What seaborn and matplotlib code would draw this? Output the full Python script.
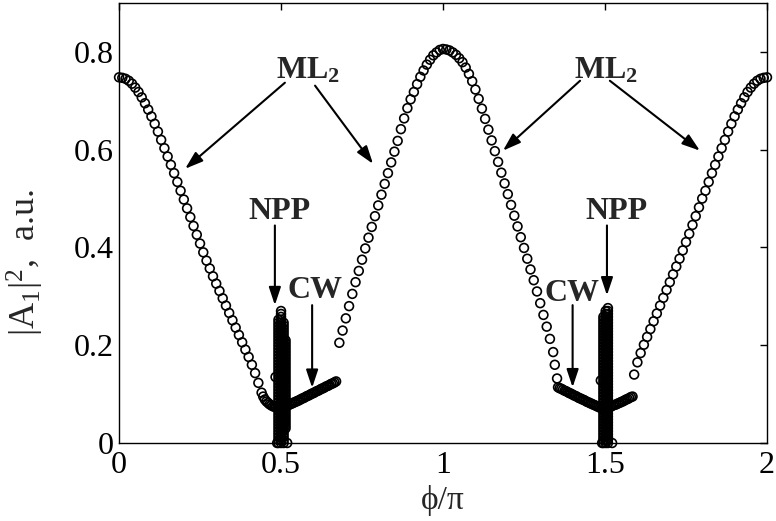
import numpy as np
import pandas as pd
import matplotlib
matplotlib.use('Agg')
import matplotlib.pyplot as plt
import seaborn as sns

# ML2 branch, left part (phi/pi, |A1|^2)
ml_left_phi = [0.00, 0.01, 0.02, 0.03, 0.04, 0.05, 0.06, 0.07, 0.08, 0.09,
               0.10, 0.11, 0.12, 0.13, 0.14, 0.15, 0.16, 0.17, 0.18, 0.19,
               0.20, 0.21, 0.22, 0.23, 0.24, 0.25, 0.26, 0.27, 0.28, 0.29,
               0.30, 0.31, 0.32, 0.33, 0.34, 0.35, 0.36, 0.37, 0.38, 0.39,
               0.40, 0.41, 0.42, 0.43, 0.44]
ml_left_val = [0.748, 0.747, 0.745, 0.741, 0.735, 0.727, 0.718, 0.707, 0.695, 0.682,
               0.668, 0.653, 0.637, 0.620, 0.603, 0.586, 0.569, 0.552, 0.534, 0.516,
               0.498, 0.480, 0.462, 0.444, 0.426, 0.408, 0.390, 0.373, 0.357, 0.341,
               0.326, 0.311, 0.296, 0.281, 0.266, 0.251, 0.236, 0.221, 0.206, 0.191,
               0.176, 0.160, 0.143, 0.123, 0.103]

# ML2 branch, central hump
ml_mid_phi = [0.68, 0.69, 0.70, 0.71, 0.72, 0.73, 0.74, 0.75, 0.76, 0.77,
              0.78, 0.79, 0.80, 0.81, 0.82, 0.83, 0.84, 0.85, 0.86, 0.87,
              0.88, 0.89, 0.90, 0.91, 0.92, 0.93, 0.94, 0.95, 0.96, 0.97,
              0.98, 0.99, 1.00, 1.01, 1.02, 1.03, 1.04, 1.05, 1.06, 1.07,
              1.08, 1.09, 1.10, 1.11, 1.12, 1.13, 1.14, 1.15, 1.16, 1.17,
              1.18, 1.19, 1.20, 1.21, 1.22, 1.23, 1.24, 1.25, 1.26, 1.27,
              1.28, 1.29, 1.30, 1.31, 1.32, 1.33, 1.34, 1.345, 1.352]
ml_mid_val = [0.205, 0.230, 0.255, 0.280, 0.305, 0.329, 0.352, 0.375, 0.398, 0.420,
              0.442, 0.464, 0.486, 0.508, 0.530, 0.552, 0.574, 0.596, 0.618, 0.642,
              0.664, 0.685, 0.703, 0.718, 0.734, 0.749, 0.762, 0.774, 0.784, 0.793,
              0.799, 0.804, 0.806, 0.805, 0.803, 0.799, 0.794, 0.787, 0.779, 0.768,
              0.755, 0.740, 0.723, 0.704, 0.684, 0.663, 0.641, 0.619, 0.597, 0.575,
              0.553, 0.531, 0.509, 0.487, 0.465, 0.443, 0.421, 0.399, 0.377, 0.355,
              0.333, 0.310, 0.286, 0.262, 0.238, 0.213, 0.186, 0.160, 0.132]

# ML2 branch, right part
ml_right_phi = [1.59, 1.60, 1.61, 1.62, 1.63, 1.64, 1.65, 1.66, 1.67, 1.68,
                1.69, 1.70, 1.71, 1.72, 1.73, 1.74, 1.75, 1.76, 1.77, 1.78,
                1.79, 1.80, 1.81, 1.82, 1.83, 1.84, 1.85, 1.86, 1.87, 1.88,
                1.89, 1.90, 1.91, 1.92, 1.93, 1.94, 1.95, 1.96, 1.97, 1.98,
                1.99, 2.00]
ml_right_val = [0.140, 0.165, 0.184, 0.201, 0.217, 0.233, 0.249, 0.265, 0.281, 0.297,
                0.313, 0.329, 0.345, 0.361, 0.377, 0.394, 0.411, 0.428, 0.446, 0.464,
                0.482, 0.500, 0.516, 0.534, 0.552, 0.569, 0.586, 0.603, 0.620, 0.637,
                0.653, 0.668, 0.682, 0.695, 0.707, 0.718, 0.727, 0.735, 0.741, 0.745,
                0.747, 0.748]

# CW branches near phi = 0.5 and phi = 1.5
cw1_phi = [0.445, 0.450, 0.455, 0.460, 0.465, 0.470, 0.475, 0.480, 0.485, 0.490,
           0.500, 0.505, 0.510, 0.515, 0.520, 0.525, 0.530, 0.535, 0.540, 0.545,
           0.550, 0.555, 0.560, 0.565, 0.570, 0.575, 0.580, 0.585, 0.590, 0.595,
           0.600, 0.605, 0.610, 0.615, 0.620, 0.625, 0.630, 0.635, 0.640, 0.645,
           0.650, 0.655, 0.660, 0.665, 0.670]
cw1_val = [0.095, 0.089, 0.085, 0.082, 0.079, 0.077, 0.075, 0.074, 0.073, 0.072,
           0.072, 0.073, 0.074, 0.075, 0.077, 0.078, 0.080, 0.081, 0.083, 0.084,
           0.086, 0.087, 0.089, 0.091, 0.092, 0.094, 0.096, 0.097, 0.099, 0.101,
           0.102, 0.104, 0.106, 0.107, 0.109, 0.111, 0.112, 0.114, 0.116, 0.117,
           0.119, 0.121, 0.122, 0.124, 0.126]
cw2_phi = [1.355, 1.360, 1.365, 1.370, 1.375, 1.380, 1.385, 1.390, 1.395, 1.400,
           1.405, 1.410, 1.415, 1.420, 1.425, 1.430, 1.435, 1.440, 1.445, 1.450,
           1.455, 1.460, 1.465, 1.470, 1.475, 1.480, 1.485, 1.490,
           1.510, 1.515, 1.520, 1.525, 1.530, 1.535, 1.540, 1.545, 1.550, 1.555,
           1.560, 1.565, 1.570, 1.575, 1.580, 1.585]
cw2_val = [0.114, 0.112, 0.111, 0.109, 0.107, 0.106, 0.104, 0.102, 0.101, 0.099,
           0.097, 0.096, 0.094, 0.092, 0.091, 0.089, 0.088, 0.086, 0.084, 0.083,
           0.081, 0.080, 0.078, 0.077, 0.075, 0.074, 0.072, 0.071,
           0.073, 0.074, 0.075, 0.077, 0.078, 0.079, 0.081, 0.082, 0.084, 0.085,
           0.087, 0.089, 0.090, 0.092, 0.094, 0.095]

# NPP: dense stacks of solutions right at phi = 0.5 and 1.5
npp_levels = [0.000, 0.006, 0.012, 0.018, 0.024, 0.030, 0.036, 0.042, 0.048, 0.054,
              0.060, 0.066, 0.072, 0.078, 0.084, 0.090, 0.096, 0.102, 0.108, 0.114,
              0.120, 0.126, 0.132, 0.138, 0.144, 0.150, 0.156, 0.162, 0.168, 0.174,
              0.180, 0.186, 0.192, 0.198, 0.204, 0.210, 0.216, 0.222, 0.228, 0.234,
              0.240, 0.246, 0.252, 0.258, 0.264, 0.270, 0.276]
npp_col_phi = [0.492, 0.500, 0.508, 0.514, 1.495, 1.502, 1.509]
npp_col_low = [0.000, 0.000, 0.000, 0.030, 0.000, 0.000, 0.000]
npp_col_high = [0.255, 0.272, 0.250, 0.210, 0.262, 0.270, 0.276]
npp_extra_phi = [0.488, 0.519, 0.483, 1.491, 1.522, 1.487]
npp_extra_val = [0.000, 0.000, 0.135, 0.000, 0.000, 0.128]

npp_phi, npp_val = [], []
for p, lo, hi in zip(npp_col_phi, npp_col_low, npp_col_high):
    for v in npp_levels:
        if lo <= v <= hi:
            npp_phi.append(p)
            npp_val.append(v)

df = pd.DataFrame({
    'phi': ml_left_phi + ml_mid_phi + ml_right_phi + cw1_phi + cw2_phi + npp_phi + npp_extra_phi,
    'A2': ml_left_val + ml_mid_val + ml_right_val + cw1_val + cw2_val + npp_val + npp_extra_val,
})

sns.set_style('white')
plt.rcParams['font.family'] = ['Liberation Serif', 'DejaVu Serif']
plt.rcParams['mathtext.fontset'] = 'custom'
plt.rcParams['mathtext.rm'] = 'Liberation Serif'
plt.rcParams['mathtext.it'] = 'Liberation Serif:italic'
plt.rcParams['mathtext.bf'] = 'Liberation Serif:bold'

fig, ax = plt.subplots(figsize=(7.76, 5.21), dpi=100)
fig.subplots_adjust(left=0.1534, right=0.9884, bottom=0.1497, top=0.9942)

sns.scatterplot(data=df, x='phi', y='A2', ax=ax, marker='o', s=40,
                facecolor='none', edgecolor='black', linewidth=1.2, legend=False,
                clip_on=False, zorder=3)

ax.set_xlim(0, 2)
ax.set_ylim(0, 0.9)
ax.set_xticks([0, 0.5, 1, 1.5, 2])
ax.set_xticklabels(['0', '0.5', '1', '1.5', '2'])
ax.set_yticks([0, 0.2, 0.4, 0.6, 0.8])
ax.set_yticklabels(['0', '0.2', '0.4', '0.6', '0.8'])
ax.tick_params(direction='in', length=5, width=1, top=True, right=True,
               labelsize=23, colors='black')
ax.tick_params(axis='x', pad=6)
ax.tick_params(axis='y', pad=4)
for sp in ax.spines.values():
    sp.set_color('black')
    sp.set_linewidth(1.0)

ax.set_xlabel('ϕ/π', fontsize=24, labelpad=3)
ax.set_ylabel('|A$_1$|$^2$,  a.u.', fontsize=26)
ax.yaxis.set_label_coords(-0.112, 0.41)

# labels and arrows
lab = dict(fontsize=23, fontweight='bold', ha='center', va='baseline')
ax.text(0.584, 0.745, 'ML$_\\mathbf{2}$', **lab)
ax.text(1.503, 0.745, 'ML$_\\mathbf{2}$', **lab)
ax.text(0.494, 0.459, 'NPP', **lab)
ax.text(1.534, 0.459, 'NPP', **lab)
ax.text(0.605, 0.296, 'CW', **lab)
ax.text(1.398, 0.290, 'CW', **lab)

arrows = [((0.512, 0.737), (0.204, 0.561)),
          ((0.605, 0.731), (0.784, 0.571)),
          ((1.423, 0.741), (1.185, 0.598)),
          ((1.515, 0.741), (1.793, 0.598)),
          ((0.481, 0.445), (0.481, 0.282)),
          ((1.506, 0.445), (1.506, 0.302)),
          ((0.596, 0.282), (0.596, 0.113)),
          ((1.400, 0.282), (1.400, 0.114))]
for start, tip in arrows:
    ax.annotate('', xy=tip, xytext=start,
                arrowprops=dict(arrowstyle='-|>,head_length=0.6,head_width=0.2',
                                color='black', lw=1.5, mutation_scale=18,
                                shrinkA=0, shrinkB=0))

fig.savefig('out.png', dpi=100)
